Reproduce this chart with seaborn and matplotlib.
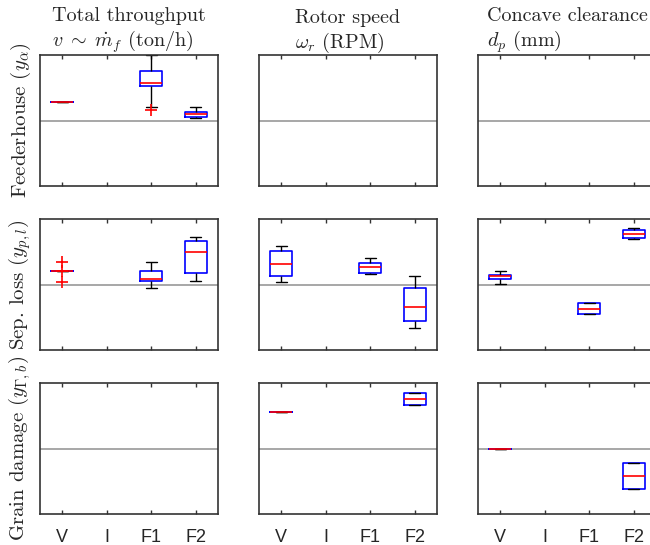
import numpy as np
import pandas as pd
import matplotlib
matplotlib.use("Agg")
import matplotlib.pyplot as plt
import seaborn as sns

# ---------------- data ----------------
groups = ["V", "I", "F1", "F2"]
row_labels = ["Feederhouse ($y_{\\alpha}$)", "Sep. loss ($y_{p,l}$)",
              "Grain damage ($y_{\\Gamma,b}$)"]
col_titles = ["Total throughput\n$v\\;\\sim\\;\\dot{m}_f$ (ton/h)",
              "Rotor speed\n$\\omega_r$ (RPM)",
              "Concave clearance\n$d_p$ (mm)"]

# five-number summaries: lower whisker, Q1, median, Q3, upper whisker
feed_thr_V = [0.29, 0.29, 0.29, 0.29, 0.29]
feed_thr_F1 = [0.21, 0.52, 0.58, 0.76, 1.00]
feed_thr_F2 = [0.04, 0.05, 0.10, 0.13, 0.21]
feed_thr_F1_out = [0.16]

sep_thr_V = [0.21, 0.21, 0.21, 0.21, 0.21]
sep_thr_V_out = [0.34, 0.21, 0.04]
sep_thr_F1 = [-0.05, 0.06, 0.09, 0.20, 0.34]
sep_thr_F2 = [0.06, 0.18, 0.50, 0.66, 0.73]

sep_rot_V = [0.04, 0.13, 0.31, 0.51, 0.59]
sep_rot_F1 = [0.16, 0.18, 0.26, 0.33, 0.41]
sep_rot_F2 = [-0.66, -0.56, -0.35, -0.06, 0.13]

sep_conc_V = [0.01, 0.08, 0.13, 0.15, 0.21]
sep_conc_F1 = [-0.45, -0.45, -0.37, -0.29, -0.29]
sep_conc_F2 = [0.69, 0.71, 0.77, 0.83, 0.86]

dmg_rot_V = [0.56, 0.56, 0.56, 0.56, 0.56]
dmg_rot_F2 = [0.66, 0.66, 0.75, 0.84, 0.84]

dmg_conc_V = [0.0, 0.0, 0.0, 0.0, 0.0]
dmg_conc_F2 = [-0.62, -0.62, -0.42, -0.22, -0.22]

panels = {
    (0, 0): ({"V": feed_thr_V, "F1": feed_thr_F1, "F2": feed_thr_F2},
             {"F1": feed_thr_F1_out}),
    (0, 1): ({}, {}),
    (0, 2): ({}, {}),
    (1, 0): ({"V": sep_thr_V, "F1": sep_thr_F1, "F2": sep_thr_F2},
             {"V": sep_thr_V_out}),
    (1, 1): ({"V": sep_rot_V, "F1": sep_rot_F1, "F2": sep_rot_F2}, {}),
    (1, 2): ({"V": sep_conc_V, "F1": sep_conc_F1, "F2": sep_conc_F2}, {}),
    (2, 0): ({}, {}),
    (2, 1): ({"V": dmg_rot_V, "F2": dmg_rot_F2}, {}),
    (2, 2): ({"V": dmg_conc_V, "F2": dmg_conc_F2}, {}),
}

# ---------------- style ----------------
sns.set_style("white")
plt.rcParams["font.family"] = ["cmr10", "DejaVu Serif"]
plt.rcParams["mathtext.fontset"] = "cm"
plt.rcParams["axes.formatter.use_mathtext"] = True
plt.rcParams["axes.unicode_minus"] = False

W, H = 650, 545
fig = plt.figure(figsize=(W / 100, H / 100), dpi=100)

col_left = [40, 259, 478]
row_top = [55, 219, 383]
aw, ah = 178, 131

spine_col = "#333333"

for r in range(3):
    for c in range(3):
        ax = fig.add_axes([col_left[c] / W, 1 - (row_top[r] + ah) / H, aw / W, ah / H])
        ax.axhline(0, color="#a0a0a0", lw=1.3, zorder=0)
        boxes, outs = panels[(r, c)]
        if boxes:
            df = pd.DataFrame([(g, v) for g, vals in boxes.items() for v in vals],
                              columns=["group", "value"])
            sns.boxplot(data=df, x="group", y="value", order=groups, ax=ax,
                        whis=(0, 100), width=0.5, fill=False, color="blue",
                        linewidth=1.2,
                        boxprops=dict(color="blue", linewidth=1.2),
                        medianprops=dict(color="red", linewidth=1.2),
                        whiskerprops=dict(color="black", linewidth=1.0),
                        capprops=dict(color="black", linewidth=1.0),
                        showfliers=False)
        if outs:
            dfo = pd.DataFrame([(g, v) for g, vals in outs.items() for v in vals],
                               columns=["group", "value"])
            sns.stripplot(data=dfo, x="group", y="value", order=groups, ax=ax,
                          jitter=False, marker="+", color="red", size=9,
                          linewidth=1.2, zorder=4)
        ax.set_xlim(-0.5, 3.5)
        ax.set_ylim(-1, 1)
        ax.set_xticks(range(4))
        ax.set_yticks([])
        ax.set_xlabel("")
        ax.set_ylabel("")
        if r == 2:
            ax.set_xticklabels(groups, fontfamily="Liberation Sans", fontsize=13)
        else:
            ax.set_xticklabels([])
        ax.tick_params(axis="x", direction="in", top=True, bottom=True,
                       length=3, width=1, color=spine_col, pad=11)
        for s in ax.spines.values():
            s.set_visible(True)
            s.set_color(spine_col)
            s.set_linewidth(1.2)
        if r == 0:
            ax.set_title(col_titles[c], fontsize=14.5, multialignment="left", pad=5)
        if c == 0:
            ax.set_ylabel(row_labels[r], fontsize=15, labelpad=5)

fig.savefig("out.png", dpi=100)
